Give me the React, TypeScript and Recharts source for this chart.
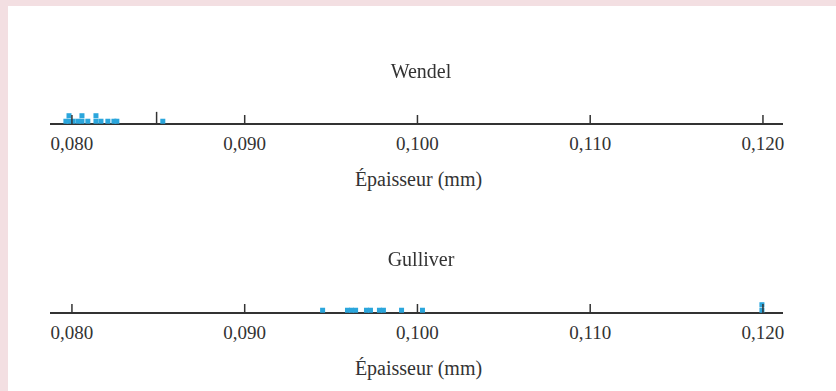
import React from 'react';
import { ScatterChart, Scatter, XAxis, YAxis, ReferenceLine } from 'recharts';

// thickness readings (mm), repeated values stack up
const axisTicks = [0.08, 0.09, 0.1, 0.11, 0.12];
const wendelThickness = [
  0.07965, 0.07983, 0.07983, 0.08006, 0.08035, 0.08058, 0.08058, 0.08092,
  0.08139, 0.08139, 0.08168, 0.08208, 0.08243, 0.0826, 0.08526,
];
const wendelMarker = 0.0849;
const gulliverThickness = [
  0.09451, 0.09595, 0.09618, 0.09642, 0.09705, 0.09728, 0.0978, 0.09803,
  0.09908, 0.10029, 0.11994, 0.11994,
];
const axisTitle = 'Épaisseur (mm)';

const FONT = '"Liberation Serif", "Times New Roman", serif';
const INK = '#333';
const DOT = '#2ba6dc';
const DOMAIN: [number, number] = [0.07873, 0.12116];

const fmt = (v: number) => v.toFixed(3).replace('.', ',');

function stack(values: number[]) {
  const seen: Record<string, number> = {};
  return values.map((v) => {
    const k = v.toFixed(5);
    const level = seen[k] ?? 0;
    seen[k] = level + 1;
    return { x: v, y: level + 0.5 };
  });
}

const GAP = 4;

function AxisTick(props: any) {
  const { x, y, payload } = props;
  const axisY = y - GAP;
  return (
    <g>
      <line x1={x} x2={x} y1={axisY} y2={axisY - 9} stroke={INK} strokeWidth={1.5} />
      <text x={x} y={axisY + 26} textAnchor="middle" fill={INK} fontSize={19} fontFamily={FONT}>
        {fmt(payload.value)}
      </text>
    </g>
  );
}

function AxisTitle(props: any) {
  const { viewBox } = props;
  return (
    <text
      x={viewBox.x + viewBox.width / 2 + 2}
      y={viewBox.y + 62}
      textAnchor="middle"
      fill={INK}
      fontSize={20}
      fontFamily={FONT}
    >
      {axisTitle}
    </text>
  );
}

const Square = (props: any) => (
  <rect x={props.cx - 2.5} y={props.cy - 2.5} width={5} height={5} fill={DOT} />
);

function DotPlot({ values, height, top, marker }: { values: number[]; height: number; top: number; marker?: number }) {
  return (
    <ScatterChart width={836} height={height} margin={{ top, right: 53, bottom: 0, left: 50 }}>
      <XAxis
        type="number"
        dataKey="x"
        domain={DOMAIN}
        ticks={axisTicks}
        interval={0}
        height={height - top - 64}
        tickSize={0}
        tickMargin={GAP}
        tickLine={false}
        axisLine={{ stroke: INK, strokeWidth: 2 }}
        tick={<AxisTick />}
        label={<AxisTitle />}
      />
      <YAxis type="number" dataKey="y" domain={[0, 11.6]} hide />
      {marker !== undefined && (
        <ReferenceLine
          segment={[{ x: marker, y: 0 }, { x: marker, y: 2.2 }]}
          stroke={INK}
          strokeWidth={1.5}
        />
      )}
      <Scatter data={stack(values)} shape={<Square />} isAnimationActive={false} />
    </ScatterChart>
  );
}

const titleStyle: React.CSSProperties = {
  position: 'absolute',
  left: 0,
  width: 842,
  textAlign: 'center',
  fontFamily: FONT,
  fontSize: 20,
  lineHeight: '20px',
  color: INK,
};

export default function App() {
  return (
    <div style={{ position: 'fixed', left: 0, top: 0, width: 836, height: 391, background: '#f3dfe2' }}>
      <div style={{ position: 'absolute', left: 8, top: 6, width: 828, height: 385, background: '#fff' }} />
      <div style={{ position: 'absolute', left: 0, top: 0 }}>
        <DotPlot values={wendelThickness} height={200} top={60} marker={wendelMarker} />
      </div>
      <div style={{ position: 'absolute', left: 0, top: 200 }}>
        <DotPlot values={gulliverThickness} height={191} top={49} />
      </div>
      <div style={{ ...titleStyle, top: 61 }}>Wendel</div>
      <div style={{ ...titleStyle, top: 249 }}>Gulliver</div>
    </div>
  );
}
